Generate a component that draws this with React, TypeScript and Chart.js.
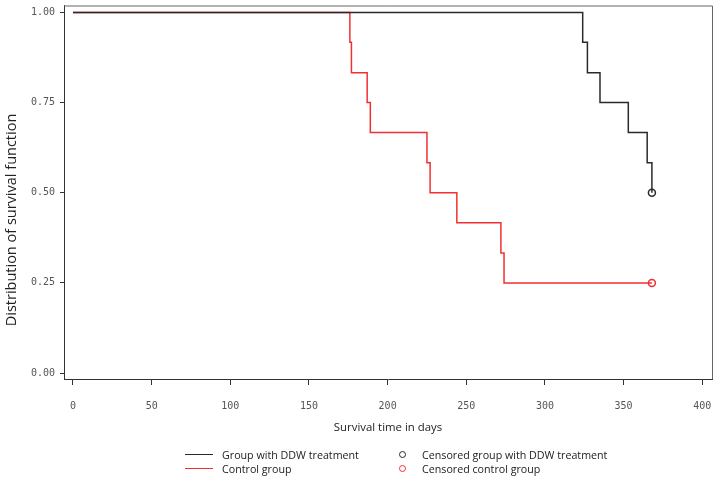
import React, { useEffect, useRef } from "react";
import { Chart, registerables } from "chart.js";

Chart.register(...registerables);

// ---- data ----
const xTickValues = [0, 50, 100, 150, 200, 250, 300, 350, 400];
const yTickValues = [0, 0.25, 0.5, 0.75, 1];

const ddwTimes = [0, 324, 327, 335, 353, 365, 368];
const ddwSurvival = [1, 0.917, 0.833, 0.75, 0.667, 0.583, 0.5];

const controlTimes = [0, 176, 177, 187, 189, 225, 227, 244, 272, 274, 368];
const controlSurvival = [1, 0.917, 0.833, 0.75, 0.667, 0.583, 0.5, 0.417, 0.333, 0.25, 0.25];

const ddwCensoredTimes = [368];
const ddwCensoredSurvival = [0.5];
const controlCensoredTimes = [368];
const controlCensoredSurvival = [0.25];

const seriesLabels = [
  "Group with DDW treatment",
  "Control group",
  "Censored group with DDW treatment",
  "Censored control group",
];
const xTitle = "Survival time in days";
const yTitle = "Distribution of survival function";

const BLACK = "#2a2a2a";
const RED = "#f03030";

const zip = (xs: number[], ys: number[]) => xs.map((x, i) => ({ x, y: ys[i] }));

const framePlugin = {
  id: "frame",
  afterDraw(chart: any) {
    const { ctx, chartArea } = chart;
    ctx.save();
    ctx.strokeStyle = "#666";
    ctx.lineWidth = 1;
    ctx.beginPath();
    ctx.moveTo(chartArea.left, chartArea.top + 0.5);
    ctx.lineTo(chartArea.right + 0.5, chartArea.top + 0.5);
    ctx.lineTo(chartArea.right + 0.5, chartArea.bottom);
    ctx.stroke();
    // y axis title
    ctx.translate(12, 220);
    ctx.rotate(-Math.PI / 2);
    ctx.font = '14.5px "Open Sans"';
    ctx.fillStyle = "#222";
    ctx.textAlign = "center";
    ctx.textBaseline = "middle";
    ctx.fillText(yTitle, 0, 0);
    ctx.restore();
  },
};

const zeroPad = (s: any) => {
  s.paddingTop = 0;
  s.paddingBottom = 0;
  s.paddingLeft = 0;
  s.paddingRight = 0;
};

export default function App() {
  const ref = useRef<HTMLCanvasElement | null>(null);

  useEffect(() => {
    if (!ref.current) return;
    const chart = new Chart(ref.current, {
      type: "line",
      data: {
        datasets: [
          {
            label: seriesLabels[0],
            data: zip(ddwTimes, ddwSurvival),
            borderColor: BLACK,
            borderWidth: 1.5,
            pointRadius: 0,
            stepped: "before",
            fill: false,
          },
          {
            label: seriesLabels[1],
            data: zip(controlTimes, controlSurvival),
            borderColor: RED,
            borderWidth: 1.5,
            pointRadius: 0,
            stepped: "before",
            fill: false,
          },
          {
            type: "scatter",
            label: seriesLabels[2],
            data: zip(ddwCensoredTimes, ddwCensoredSurvival),
            borderColor: BLACK,
            backgroundColor: "rgba(255,255,255,0)",
            pointRadius: 3.5,
            pointBorderWidth: 1.5,
            showLine: false,
          },
          {
            type: "scatter",
            label: seriesLabels[3],
            data: zip(controlCensoredTimes, controlCensoredSurvival),
            borderColor: RED,
            backgroundColor: "rgba(255,255,255,0)",
            pointRadius: 3.5,
            pointBorderWidth: 1.5,
            showLine: false,
          },
        ] as any,
      },
      options: {
        animation: false,
        responsive: false,
        maintainAspectRatio: false,
        layout: { padding: { left: 0, top: 2, right: 9, bottom: 42 } },
        plugins: {
          legend: { display: false },
          tooltip: { enabled: false },
        },
        scales: {
          x: {
            type: "linear",
            min: -5.72,
            max: 406.2,
            afterFit: (s: any) => {
              s.height = 61;
              zeroPad(s);
            },
            afterBuildTicks: (s: any) => {
              s.ticks = xTickValues.map((v) => ({ value: v }));
            },
            border: { display: true, color: "#333", width: 1 },
            grid: {
              display: true,
              drawOnChartArea: false,
              drawTicks: true,
              tickLength: 6,
              color: "#333",
            },
            ticks: {
              autoSkip: false,
              maxRotation: 0,
              padding: 15,
              color: "#555",
              font: { family: '"DejaVu Sans Mono"', size: 10 },
              callback: (v: any) => String(v),
            },
            title: {
              display: true,
              text: xTitle,
              color: "#222",
              font: { family: '"Open Sans"', size: 11.4 },
              padding: { top: 0, bottom: 5.5 },
            },
          },
          y: {
            type: "linear",
            min: -0.0165,
            max: 1.0192,
            afterFit: (s: any) => {
              s.width = 64;
              zeroPad(s);
            },
            afterBuildTicks: (s: any) => {
              s.ticks = yTickValues.map((v) => ({ value: v }));
            },
            border: { display: true, color: "#333", width: 1 },
            grid: {
              display: true,
              drawOnChartArea: false,
              drawTicks: true,
              tickLength: 4,
              color: "#333",
            },
            ticks: {
              autoSkip: false,
              padding: 5,
              color: "#555",
              font: { family: '"DejaVu Sans Mono"', size: 10 },
              callback: (v: any) => Number(v).toFixed(2),
            },
          },
        },
      } as any,
      plugins: [framePlugin],
    });
    return () => chart.destroy();
  }, []);

  const textStyle: React.CSSProperties = {
    position: "absolute",
    fontFamily: '"Open Sans", sans-serif',
    fontSize: 10.7,
    color: "#222",
    lineHeight: "14px",
    whiteSpace: "nowrap",
  };
  const lineSw = (color: string, top: number): React.CSSProperties => ({
    position: "absolute",
    left: 185,
    top: top - 0.75,
    width: 28,
    height: 0,
    borderTop: `1.5px solid ${color}`,
  });
  const circSw = (color: string, top: number): React.CSSProperties => ({
    position: "absolute",
    left: 399,
    top: top - 4,
    width: 5,
    height: 5,
    border: `1.5px solid ${color}`,
    borderRadius: "50%",
  });

  return (
    <div style={{ position: "fixed", left: 0, top: 0, width: 721, height: 482, background: "#fff" }}>
      <canvas ref={ref} width={721} height={482} style={{ display: "block" }} />
      <div style={lineSw(BLACK, 455)} />
      <div style={{ ...textStyle, left: 222, top: 448 }}>{seriesLabels[0]}</div>
      <div style={lineSw(RED, 469)} />
      <div style={{ ...textStyle, left: 222, top: 462 }}>{seriesLabels[1]}</div>
      <div style={circSw(BLACK, 455)} />
      <div style={{ ...textStyle, left: 422, top: 448 }}>{seriesLabels[2]}</div>
      <div style={circSw(RED, 469)} />
      <div style={{ ...textStyle, left: 422, top: 462 }}>{seriesLabels[3]}</div>
    </div>
  );
}
